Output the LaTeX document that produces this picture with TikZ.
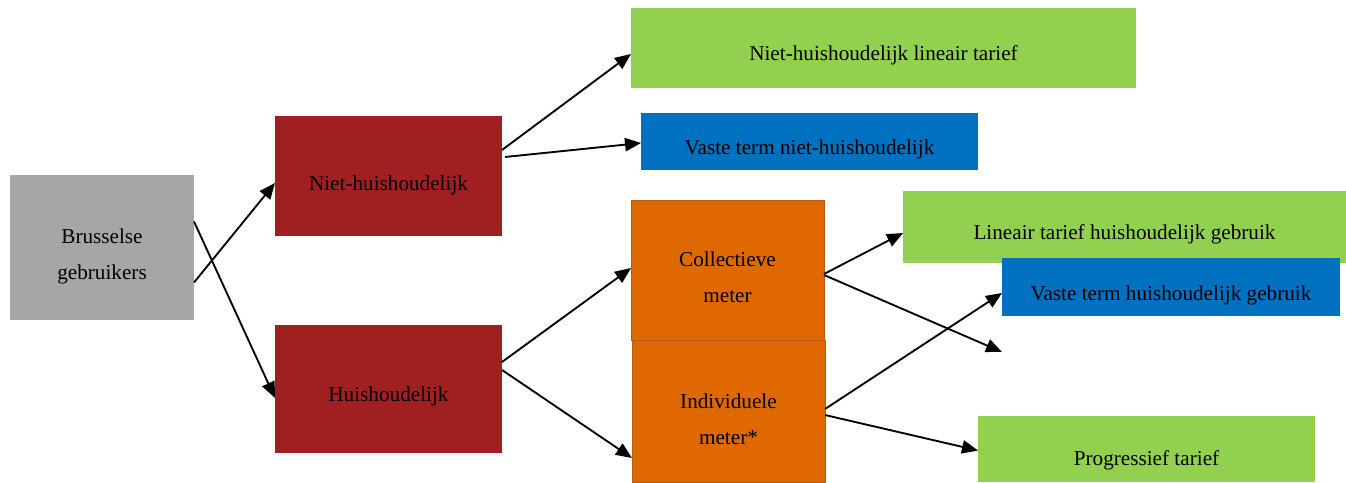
\documentclass[tikz,border=0pt]{standalone}
\usepackage{fontspec}
\setmainfont{Liberation Serif}
\usetikzlibrary{arrows.meta}
\definecolor{cgray}{HTML}{A6A6A6}
\definecolor{cred}{HTML}{A01F21}
\definecolor{cgreen}{HTML}{92D050}
\definecolor{cblue}{HTML}{0070C0}
\definecolor{corange}{HTML}{DD6900}
\definecolor{corangeb}{HTML}{B85A12}
\tikzset{
  box/.style={rectangle, inner sep=0pt, outer sep=0pt, draw=none},
  txt/.style={inner sep=0pt, font=\fontsize{15.9}{27}\selectfont, align=center, text=black},
  arr/.style={line width=1.4pt, -{Triangle[length=12pt,width=10pt]}}
}
\begin{document}
\begin{tikzpicture}[x=0.75pt,y=-0.75pt]
\useasboundingbox (0,0) rectangle (1346,482);
% boxes
\node[box, fill=cgray, minimum width=184*0.75pt, minimum height=145*0.75pt] (bru) at (102,247.5) {};
\node[box, fill=cred, minimum width=227*0.75pt, minimum height=120*0.75pt] (nh) at (388.5,176) {};
\node[box, fill=cred, minimum width=227*0.75pt, minimum height=128*0.75pt] (hh) at (388.5,389) {};
\node[box, fill=cgreen, minimum width=505*0.75pt, minimum height=80*0.75pt] (g1) at (883.5,48) {};
\node[box, fill=cblue, minimum width=337*0.75pt, minimum height=57*0.75pt] (b1) at (809.5,141.5) {};
\node[box, fill=corange, draw=corangeb, line width=0.6pt, minimum width=193*0.75pt, minimum height=140*0.75pt] (col) at (727.5,270) {};
\node[box, fill=corange, draw=corangeb, line width=0.6pt, minimum width=193*0.75pt, minimum height=142*0.75pt] (ind) at (728.5,411) {};
\node[box, fill=cgreen, minimum width=443*0.75pt, minimum height=72*0.75pt] (g2) at (1124.5,227) {};
\node[box, fill=cblue, minimum width=338*0.75pt, minimum height=58*0.75pt] (b2) at (1171,287) {};
\node[box, fill=cgreen, minimum width=337*0.75pt, minimum height=66*0.75pt] (g3) at (1146.5,449) {};
% texts
\node[txt] (tbru) at (102,256) {Brusselse\\gebruikers};
\node[txt] (tnh) at (388.5,185) {Niet-huishoudelijk};
\node[txt] (thh) at (388.5,396) {Huishoudelijk};
\node[txt] (tg1) at (883.5,55) {Niet-huishoudelijk lineair tarief};
\node[txt] (tb1) at (809.5,149) {Vaste term niet-huishoudelijk};
\node[txt] (tcol) at (727.5,277.5) {Collectieve\\meter};
\node[txt] (tind) at (728.5,419) {Individuele\\meter*};
\node[txt] (tg2) at (1124.5,234) {Lineair tarief huishoudelijk gebruik};
\node[txt] (tb2) at (1171,295) {Vaste term huishoudelijk gebruik};
\node[txt] (tg3) at (1146.5,460) {Progressief tarief};
\coordinate (free) at (1002,352);
% arrows
\draw[arr] ([yshift=-35*0.75pt]bru.east) -- ([yshift=-7*0.75pt]nh.west);
\draw[arr] ([yshift=26*0.75pt]bru.east) -- ([yshift=-9*0.75pt]hh.west);
\draw[arr] ([yshift=26*0.75pt]nh.east) -- ([yshift=-6*0.75pt]g1.west);
\draw[arr] ([xshift=3*0.75pt,yshift=19*0.75pt]nh.east) -- ([yshift=-1.5*0.75pt]b1.west);
\draw[arr] ([yshift=27*0.75pt]hh.east) -- ([yshift=2*0.75pt]col.west);
\draw[arr] ([yshift=19*0.75pt]hh.east) -- ([yshift=-47*0.75pt]ind.west);
\draw[arr] ([yshift=-4*0.75pt]col.east) -- ([yshift=-6*0.75pt]g2.west);
\draw[arr] ([yshift=-5*0.75pt]col.east) -- (free);
\draw[arr] ([yshift=2*0.75pt]ind.east) -- ([yshift=-6*0.75pt]b2.west);
\draw[arr] ([yshift=-4*0.75pt]ind.east) -- ([yshift=-1.5*0.75pt]g3.west);
\end{tikzpicture}
\end{document}
